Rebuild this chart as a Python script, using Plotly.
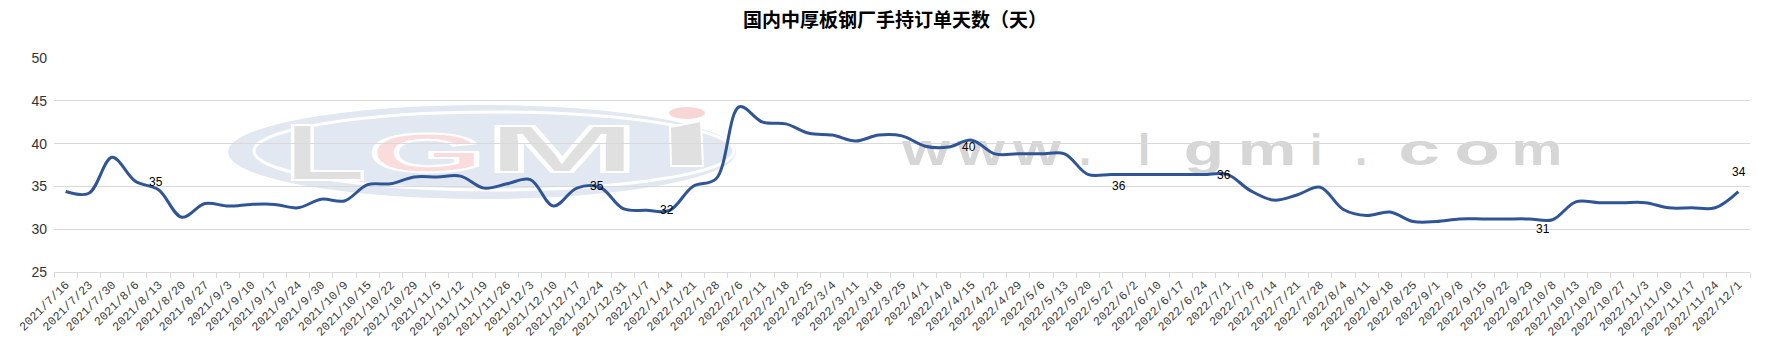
import base64
import plotly.graph_objects as go

# ---------------- data ----------------
dates = [
    "2021/7/16", "2021/7/23", "2021/7/30", "2021/8/6", "2021/8/13", "2021/8/20", "2021/8/27",
    "2021/9/3", "2021/9/10", "2021/9/17", "2021/9/24", "2021/9/30", "2021/10/9", "2021/10/15",
    "2021/10/22", "2021/10/29", "2021/11/5", "2021/11/12", "2021/11/19", "2021/11/26", "2021/12/3",
    "2021/12/10", "2021/12/17", "2021/12/24", "2021/12/31", "2022/1/7", "2022/1/14", "2022/1/21",
    "2022/1/28", "2022/2/6", "2022/2/11", "2022/2/18", "2022/2/25", "2022/3/4", "2022/3/11",
    "2022/3/18", "2022/3/25", "2022/4/1", "2022/4/8", "2022/4/15", "2022/4/22", "2022/4/29",
    "2022/5/6", "2022/5/13", "2022/5/20", "2022/5/27", "2022/6/2", "2022/6/10", "2022/6/17",
    "2022/6/24", "2022/7/1", "2022/7/8", "2022/7/14", "2022/7/21", "2022/7/28", "2022/8/4",
    "2022/8/11", "2022/8/18", "2022/8/25", "2022/9/1", "2022/9/8", "2022/9/15", "2022/9/22",
    "2022/9/29", "2022/10/8", "2022/10/13", "2022/10/20", "2022/10/27", "2022/11/3", "2022/11/10",
    "2022/11/17", "2022/11/24", "2022/12/1",
]

order_days = [
    34.4, 34.2, 38.4, 35.6, 34.6, 31.4, 33.0, 32.7, 32.9, 32.9,
    32.5, 33.5, 33.3, 35.2, 35.3, 36.1, 36.1, 36.2, 34.8, 35.3,
    35.8, 32.7, 34.8, 34.9, 32.4, 32.2, 32.2, 35.0, 35.9, 44.3,
    42.5, 42.3, 41.2, 41.0, 40.3, 41.0, 40.9, 39.7, 39.6, 40.4,
    38.8, 38.8, 38.8, 38.8, 36.4, 36.4, 36.4, 36.4, 36.4, 36.4,
    36.4, 34.5, 33.4, 34.0, 34.9, 32.3, 31.6, 32.0, 30.9, 30.9,
    31.2, 31.2, 31.2, 31.2, 31.1, 33.2, 33.1, 33.1, 33.1, 32.5,
    32.5, 32.5, 34.4,
]

# points that carry a data label
label_index = [4, 23, 26, 39, 45, 50, 64, 72]

y_ticks = [25, 30, 35, 40, 45, 50]
title_text = "国内中厚板钢厂手持订单天数（天）"

# ---------------- styles ----------------
LINE_COLOR = "#2F5597"
GRID_COLOR = "#D9D9D9"
W, H = 1790, 357
M_L, M_R, M_T, M_B = 54, 40, 58, 85
# label pixel offsets (dx right, dy up)
label_shift = {4: (-3, 8), 23: (-3, 1), 26: (-3, 0), 39: (-3, -7),
               45: (8, -12), 50: (-3, -1), 64: (-10, -9), 72: (1, 20)}

# ---------------- watermark (SVG image) ----------------
def glyph(ch, cx, base, size, sx, fill, stroke="none", sw=0):
    return (f'<g transform="translate({cx},{base}) scale({sx},1)">'
            f'<text x="0" y="0" text-anchor="middle" font-family="Liberation Sans" '
            f'font-weight="bold" font-size="{size}" fill="{fill}" stroke="{stroke}" '
            f'stroke-width="{sw}">{ch}</text></g>')

pw, ph = W - M_L - M_R, H - M_T - M_B
parts = [f'<svg xmlns="http://www.w3.org/2000/svg" width="{pw}" height="{ph}" '
         f'viewBox="{M_L} {M_T} {pw} {ph}" preserveAspectRatio="none">']
parts.append('<ellipse cx="482" cy="152" rx="254" ry="47" fill="#E1E8F1"/>')
parts.append('<ellipse cx="494" cy="151" rx="240" ry="39" fill="none" stroke="#FFFFFF" stroke-width="3"/>')
parts.append(glyph("L", 325, 180, 80, 1.7, "#E0E0E0", "#FFFFFF", 2))
parts.append(glyph("G", 427, 172, 56, 2.7, "#FADCDC", "#FFFFFF", 2))
parts.append(glyph("M", 562, 172, 66, 2.8, "#E0E0E0", "#FFFFFF", 2))
parts.append('<polygon points="670,127 701,121 703,166 671,166" fill="#E0E0E0" stroke="#FFFFFF" stroke-width="2"/>')
parts.append('<ellipse cx="687" cy="113" rx="18" ry="6" fill="#F9D6D6"/>')
wm = [("w", 926, 1.4), ("w", 981, 1.4), ("w", 1037, 1.4), (".", 1085, 1.0),
      ("l", 1144, 1.0), ("g", 1204, 1.5), ("m", 1267, 1.5), ("i", 1316, 1.0),
      (".", 1361, 1.0), ("c", 1419, 1.7), ("o", 1477, 1.7), ("m", 1537, 1.3)]
for ch, cx, sx in wm:
    parts.append(glyph(ch, cx, 165, 44, sx, "#D6D6D6"))
parts.append('</svg>')
svg = "".join(parts)
svg_uri = "data:image/svg+xml;base64," + base64.b64encode(svg.encode("utf-8")).decode()

# ---------------- figure ----------------
fig = go.Figure()
fig.add_trace(go.Scatter(
    x=dates, y=order_days, mode="lines",
    line=dict(color=LINE_COLOR, width=3, shape="spline", smoothing=1.0),
    hoverinfo="x+y", showlegend=False,
))

for i in label_index:
    dx, dy = label_shift[i]
    fig.add_annotation(
        x=dates[i], y=order_days[i], text=str(int(round(order_days[i]))),
        showarrow=False, xshift=dx, yshift=dy,
        font=dict(family="Liberation Sans", size=12, color="#000000"),
    )

fig.update_layout(
    width=W, height=H,
    margin=dict(l=M_L, r=M_R, t=M_T, b=M_B, autoexpand=False),
    paper_bgcolor="#FFFFFF", plot_bgcolor="rgba(0,0,0,0)",
    title=dict(text=title_text, x=0.5, xanchor="center", y=1 - 20 / H, yanchor="middle",
               yref="container",
               font=dict(family="Noto Sans CJK SC", size=19, color="#000000", weight="bold")),
    images=[dict(source=svg_uri, xref="paper", yref="paper", x=0, y=1, sizex=1, sizey=1,
                 xanchor="left", yanchor="top", sizing="stretch", layer="below")],
    xaxis=dict(
        type="category", tickangle=-45, showgrid=False, zeroline=False,
        showline=True, linecolor=GRID_COLOR, linewidth=1,
        ticks="outside", tickson="boundaries", ticklen=5, tickcolor=GRID_COLOR,
        tickfont=dict(family="Liberation Mono", size=12, color="#404040"),
        range=[-0.5, len(dates) - 0.5],
    ),
    yaxis=dict(
        range=[25, 50], tickvals=y_ticks, showgrid=True, gridcolor=GRID_COLOR, gridwidth=1,
        zeroline=False, showline=False, ticks="",
        tickfont=dict(family="Liberation Sans", size=14, color="#333333"),
        ticklabelstandoff=6,
    ),
)

fig.write_html("out.html",
               config={"displayModeBar": False},
               post_script="document.body.style.margin='0';document.body.style.overflow='hidden';")
